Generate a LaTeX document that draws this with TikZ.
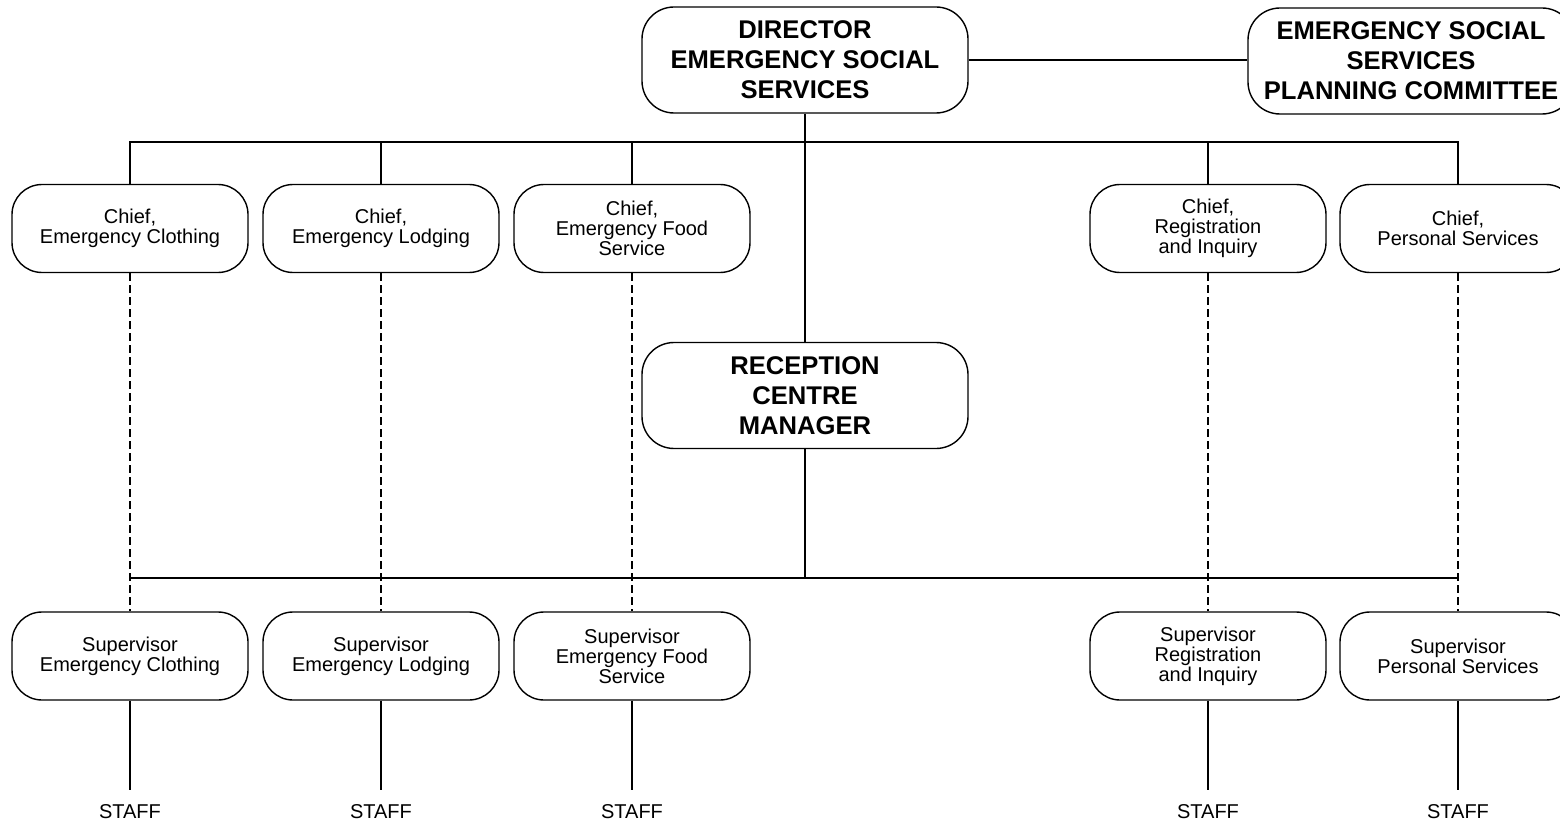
\documentclass[tikz,border=0pt]{standalone}
\usepackage{fontspec}
\setmainfont{Liberation Sans}
\begin{document}
\begin{tikzpicture}[x=0.5pt,y=-0.5pt, line width=0.7pt,
  box/.style={draw, align=center, inner sep=0pt},
  big/.style={box, rounded corners=16pt, font=\fontsize{12.8}{15}\selectfont\bfseries, minimum width=163pt, minimum height=53pt},
  small/.style={box, rounded corners=15pt, font=\fontsize{10}{10}\selectfont, minimum width=118pt, minimum height=44pt},
  stafflabel/.style={font=\fontsize{10}{12}\selectfont, inner xsep=0pt, inner ysep=7pt},
  dashedlink/.style={dash pattern=on 4pt off 2pt}]
\useasboundingbox (0,0) rectangle (1560,824);
\clip (0,0) rectangle (1560,824);

% top level
\node[big] (dir) at (805,60) {DIRECTOR\\EMERGENCY SOCIAL\\SERVICES};
\node[big] (com) at (1411,61) {EMERGENCY SOCIAL\\SERVICES\\PLANNING COMMITTEE};
\node[big] (rcm) at (805,395.5) {RECEPTION\\CENTRE\\MANAGER};

% chiefs
\node[small] (cc) at (130,228.5) {Chief,\\Emergency Clothing};
\node[small] (cl) at (381,228.5) {Chief,\\Emergency Lodging};
\node[small] (cf) at (632,228.5) {Chief,\\Emergency Food\\Service};
\node[small] (cr) at (1208,228.5) {Chief,\\Registration\\and Inquiry};
\node[small] (cp) at (1458,228.5) {Chief,\\Personal Services};

% supervisors
\node[small] (sc) at (130,656) {Supervisor\\Emergency Clothing};
\node[small] (sl) at (381,656) {Supervisor\\Emergency Lodging};
\node[small] (sf) at (632,656) {Supervisor\\Emergency Food\\Service};
\node[small] (sr) at (1208,656) {Supervisor\\Registration\\and Inquiry};
\node[small] (sp) at (1458,656) {Supervisor\\Personal Services};

% staff
\node[stafflabel] (tc) at (130,812) {STAFF};
\node[stafflabel] (tl) at (381,812) {STAFF};
\node[stafflabel] (tf) at (632,812) {STAFF};
\node[stafflabel] (tr) at (1208,812) {STAFF};
\node[stafflabel] (tp) at (1458,812) {STAFF};

% buses
\coordinate (topbus) at (805,142);
\coordinate (botbus) at (805,578);

\draw (dir.east) -- (dir.east -| com.west);
\draw (dir.south) -- (rcm.north);
\draw (cc.north) |- (topbus) -| (cp.north);
\draw (cl.north) -- (cl.north |- topbus);
\draw (cf.north) -- (cf.north |- topbus);
\draw (cr.north) -- (cr.north |- topbus);

\draw (rcm.south) -- (botbus);
\draw (sc.north |- botbus) -- (sp.north |- botbus);

\foreach \a/\b in {cc/sc, cl/sl, cf/sf, cr/sr, cp/sp}
  \draw[dashedlink] (\a.south) -- (\b.north);

\foreach \a/\b in {sc/tc, sl/tl, sf/tf, sr/tr, sp/tp}
  \draw (\a.south) -- (\b.north);
\end{tikzpicture}
\end{document}
